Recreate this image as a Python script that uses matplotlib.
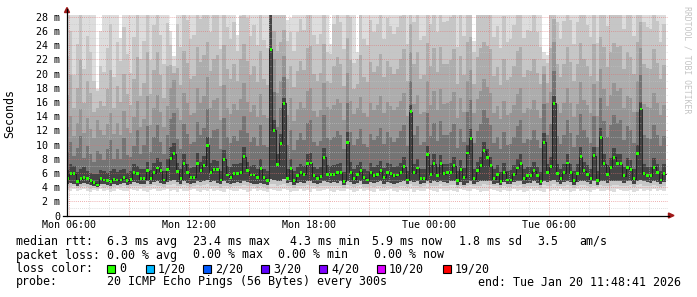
import numpy as np
import matplotlib
matplotlib.use("Agg")
import matplotlib.pyplot as plt
from matplotlib.lines import Line2D
from matplotlib.patches import Rectangle, Polygon

plt.rcParams["font.family"] = ["DejaVu Sans Mono"]

W, H = 697, 297

# 10 minute samples, hours since Mon 00:00, first one at Mon 05:50
start_hour = 5 + 50 / 60
step_hours = 10 / 60

rtt_median = [
    5.2, 5.9, 5.9, 4.8, 5.2, 5.3, 5.2, 4.9, 4.6, 4.3,
    5.2, 5.0, 4.9, 4.8, 5.1, 5.0, 5.0, 5.3, 4.9, 5.1,
    6.0, 5.9, 5.2, 5.2, 6.3, 5.2, 6.0, 6.7, 6.3, 5.0,
    6.5, 8.0, 8.7, 6.2, 5.2, 7.3, 6.0, 5.4, 5.4, 7.3,
    6.3, 7.1, 9.9, 6.1, 6.5, 6.5, 5.0, 7.9, 5.7, 5.4,
    5.9, 5.9, 6.0, 8.3, 6.3, 5.7, 5.7, 5.3, 6.6, 5.3,
    4.9, 23.4, 12.0, 7.2, 10.2, 15.8, 5.2, 6.6, 4.9, 5.6,
    6.0, 5.8, 7.3, 7.4, 5.6, 5.2, 5.5, 8.2, 5.8, 5.8,
    5.8, 6.0, 6.0, 4.8, 10.3, 6.1, 5.2, 5.8, 6.3, 5.3,
    5.0, 6.1, 5.6, 5.8, 6.3, 5.4, 6.1, 5.9, 5.6, 5.7,
    6.1, 6.9, 5.0, 14.6, 6.0, 6.7, 5.2, 5.2, 8.6, 5.8,
    7.3, 5.6, 7.3, 5.9, 6.0, 6.1, 7.0, 4.9, 6.5, 5.4,
    8.8, 10.9, 5.2, 6.3, 7.0, 9.1, 8.2, 7.0, 5.2, 5.8,
    4.8, 6.1, 5.0, 5.0, 5.8, 6.7, 7.3, 5.2, 5.6, 5.6,
    6.3, 5.6, 4.8, 10.3, 6.0, 6.9, 15.8, 5.9, 5.2, 6.0,
    7.4, 6.0, 4.9, 5.9, 8.3, 6.3, 5.8, 5.2, 8.4, 4.9,
    11.0, 7.3, 5.8, 6.8, 8.2, 7.3, 7.3, 5.6, 6.8, 6.5,
    5.2, 8.7, 15.0, 5.9, 5.6, 5.6, 6.8, 6.0, 5.0, 5.9,
]

# smoke, from the fastest ping up to the slowest ping (ms)
ping_min = [
    3.6, 3.5, 3.7, 3.4, 3.6, 3.8, 3.5, 3.3, 3.6, 3.4,
    3.7, 3.5, 3.6, 3.3, 3.5, 3.8, 3.6, 3.4, 3.5, 3.7,
    3.6, 3.4, 3.8, 3.5, 3.3, 3.6, 3.7, 3.5, 3.4, 3.6,
    3.8, 3.5, 3.6, 3.3, 3.7, 3.5, 3.4, 3.6, 3.8, 3.5,
    3.3, 3.6, 3.5, 3.7, 3.4, 3.6, 3.5, 3.3, 3.7, 3.6,
    3.4, 3.5, 3.8, 3.6, 3.3, 3.5, 3.7, 3.4, 3.6, 3.5,
    3.3, 3.7, 3.6, 3.4, 3.5, 3.8, 3.6, 3.3, 3.5, 3.4,
    3.7, 3.5, 3.6, 3.3, 3.8, 3.5, 3.4, 3.6, 3.7, 3.5,
    3.3, 3.6, 3.4, 3.5, 3.7, 3.6, 3.3, 3.5, 3.8, 3.4,
    3.6, 3.5, 3.3, 3.7, 3.5, 3.4, 3.6, 3.8, 3.5, 3.3,
    3.6, 3.4, 3.5, 3.7, 3.3, 3.6, 3.5, 3.4, 3.8, 3.6,
    3.5, 3.3, 3.7, 3.5, 3.4, 3.6, 3.5, 3.3, 3.7, 3.6,
    3.4, 3.5, 3.8, 3.6, 3.3, 3.5, 3.4, 3.7, 3.6, 3.5,
    3.3, 3.6, 3.5, 3.4, 3.8, 3.5, 3.6, 3.3, 3.5, 3.7,
    3.4, 3.6, 3.5, 3.3, 3.7, 3.5, 3.6, 3.4, 3.8, 3.5,
    3.6, 3.3, 3.5, 3.7, 3.4, 3.6, 3.5, 3.3, 3.6, 3.8,
    3.5, 3.4, 3.6, 3.5, 3.3, 3.7, 3.6, 3.4, 3.5, 3.6,
    3.3, 3.5, 3.7, 3.4, 3.6, 3.5, 3.8, 3.4, 3.6, 3.5,
]

ping_low2 = [
    4.1, 4.0, 4.1, 3.9, 4.0, 4.2, 4.0, 3.8, 3.9, 3.7,
    4.1, 3.9, 4.0, 3.8, 4.0, 4.1, 4.0, 4.1, 3.9, 4.1,
    4.2, 4.1, 4.2, 4.0, 4.2, 4.1, 4.3, 4.2, 4.1, 4.0,
    4.3, 4.3, 4.4, 4.1, 4.1, 4.3, 4.1, 4.0, 4.2, 4.3,
    4.1, 4.3, 4.4, 4.2, 4.2, 4.1, 3.9, 4.2, 4.2, 4.0,
    4.1, 4.2, 4.2, 4.3, 4.1, 4.1, 4.1, 3.9, 4.2, 4.0,
    3.8, 4.5, 4.4, 4.2, 4.3, 4.5, 4.1, 4.1, 3.9, 4.1,
    4.2, 4.1, 4.3, 4.2, 4.2, 4.0, 4.1, 4.2, 4.2, 4.1,
    4.1, 4.2, 4.2, 3.9, 4.3, 4.2, 4.0, 4.1, 4.3, 4.0,
    4.0, 4.2, 4.0, 4.2, 4.2, 4.0, 4.2, 4.2, 4.0, 4.0,
    4.2, 4.2, 4.0, 4.4, 4.1, 4.2, 4.0, 4.1, 4.4, 4.1,
    4.2, 4.1, 4.4, 4.2, 4.1, 4.3, 4.3, 3.9, 4.2, 4.0,
    4.1, 4.3, 4.1, 4.2, 4.2, 4.4, 4.3, 4.3, 4.1, 4.1,
    3.9, 4.2, 4.0, 4.0, 4.3, 4.2, 4.3, 4.0, 4.1, 4.2,
    4.2, 4.1, 3.9, 4.3, 4.2, 4.2, 4.4, 4.2, 4.1, 4.2,
    4.3, 4.1, 3.9, 4.2, 4.3, 4.3, 4.2, 4.0, 4.2, 4.0,
    4.3, 4.2, 4.1, 4.2, 4.3, 4.3, 4.2, 4.1, 4.2, 4.3,
    4.0, 4.3, 4.4, 4.2, 4.2, 4.1, 4.3, 4.2, 4.0, 4.2,
]

ping_lo = [
    4.5, 4.6, 4.4, 4.2, 4.5, 4.6, 4.4, 4.3, 4.2, 4.0,
    4.5, 4.4, 4.3, 4.2, 4.4, 4.3, 4.4, 4.6, 4.3, 4.4,
    4.7, 4.6, 4.5, 4.4, 4.8, 4.5, 4.7, 4.8, 4.6, 4.4,
    4.7, 4.9, 5.0, 4.7, 4.5, 4.8, 4.6, 4.5, 4.6, 4.9,
    4.7, 4.8, 5.0, 4.7, 4.8, 4.6, 4.4, 4.9, 4.6, 4.5,
    4.6, 4.7, 4.6, 4.9, 4.7, 4.6, 4.5, 4.4, 4.6, 4.5,
    4.3, 5.2, 5.0, 4.8, 4.9, 5.1, 4.6, 4.7, 4.3, 4.6,
    4.7, 4.6, 4.8, 4.9, 4.6, 4.5, 4.6, 4.8, 4.7, 4.6,
    4.7, 4.6, 4.8, 4.3, 4.9, 4.7, 4.5, 4.6, 4.8, 4.5,
    4.4, 4.7, 4.6, 4.7, 4.8, 4.5, 4.7, 4.6, 4.5, 4.6,
    4.7, 4.8, 4.4, 4.9, 4.7, 4.8, 4.5, 4.6, 4.9, 4.6,
    4.8, 4.7, 4.9, 4.7, 4.6, 4.8, 4.9, 4.3, 4.7, 4.3,
    4.6, 4.8, 4.5, 4.7, 4.8, 4.9, 4.9, 4.8, 4.5, 4.6,
    4.3, 4.7, 4.4, 4.5, 4.7, 4.8, 4.9, 4.5, 4.6, 4.6,
    4.8, 4.6, 4.3, 4.9, 4.7, 4.8, 5.0, 4.7, 4.5, 4.7,
    4.9, 4.7, 4.3, 4.7, 4.9, 4.8, 4.7, 4.5, 4.8, 4.3,
    4.9, 4.8, 4.6, 4.8, 4.9, 4.8, 4.8, 4.6, 4.8, 4.8,
    4.5, 4.9, 5.0, 4.8, 4.7, 4.6, 4.8, 4.7, 4.4, 4.7,
]

ping_hi1 = [
    6.4, 7.2, 7.0, 6.1, 6.5, 6.8, 6.3, 6.0, 5.9, 5.8,
    6.4, 6.2, 6.0, 6.3, 6.5, 6.1, 6.4, 6.6, 6.0, 6.3,
    7.3, 7.0, 6.5, 6.6, 7.6, 6.4, 7.4, 8.1, 7.5, 6.3,
    8.0, 9.6, 10.2, 7.4, 6.6, 8.7, 7.3, 6.7, 6.8, 8.8,
    7.6, 8.4, 11.0, 7.4, 7.8, 7.7, 6.3, 9.2, 7.0, 6.8,
    7.2, 7.3, 7.4, 9.6, 7.6, 7.0, 7.1, 6.6, 8.0, 6.6,
    6.2, 29.0, 13.5, 8.6, 11.5, 16.5, 6.6, 7.9, 6.2, 6.9,
    7.3, 7.0, 8.6, 8.8, 6.9, 6.5, 6.8, 9.5, 7.1, 7.0,
    7.1, 7.3, 7.4, 6.1, 11.8, 7.5, 6.5, 7.1, 7.6, 6.6,
    6.3, 7.4, 6.9, 7.1, 7.7, 6.7, 7.4, 7.2, 6.9, 7.0,
    7.4, 8.2, 6.3, 15.5, 7.3, 8.0, 6.5, 6.6, 9.8, 7.1,
    8.6, 6.9, 8.5, 7.2, 7.3, 7.4, 8.3, 6.2, 7.8, 6.7,
    10.0, 12.2, 6.5, 7.6, 8.3, 10.4, 9.4, 8.3, 6.5, 7.1,
    6.1, 7.4, 6.3, 6.4, 7.1, 8.0, 8.6, 6.5, 6.9, 6.9,
    7.6, 6.9, 6.1, 11.6, 7.3, 8.2, 16.8, 7.2, 6.5, 7.3,
    8.7, 7.3, 6.2, 7.2, 9.6, 7.6, 7.1, 6.5, 9.7, 6.2,
    12.3, 8.6, 7.1, 8.1, 9.5, 8.6, 8.6, 6.9, 8.1, 7.8,
    6.5, 10.0, 16.0, 7.2, 6.9, 6.9, 8.1, 7.3, 6.3, 7.2,
]

ping_hi1b = [
    8.9, 10.3, 8.4, 9.5, 11.2, 8.1, 9.8, 8.7, 7.6, 9.1,
    8.6, 7.8, 9.3, 10.6, 8.0, 9.4, 7.9, 10.9, 8.5, 8.2,
    9.8, 12.0, 8.7, 9.9, 12.6, 8.9, 11.1, 12.8, 10.4, 8.6,
    11.3, 13.6, 14.5, 10.8, 9.4, 12.9, 11.5, 10.1, 10.3, 13.2,
    11.4, 12.3, 15.0, 10.9, 12.0, 12.2, 9.3, 13.8, 11.0, 10.2,
    11.2, 10.5, 12.1, 14.0, 11.6, 10.3, 11.0, 9.8, 12.7, 10.0,
    9.6, 29.5, 17.4, 12.5, 15.1, 19.5, 9.9, 12.1, 9.2, 10.6,
    11.6, 10.7, 13.0, 13.4, 10.4, 9.8, 10.5, 14.1, 10.9, 10.6,
    11.1, 11.9, 11.4, 9.4, 15.8, 11.8, 10.0, 10.8, 12.2, 10.1,
    9.7, 11.5, 10.6, 11.2, 12.3, 10.1, 11.7, 11.0, 10.4, 10.9,
    11.9, 12.8, 9.8, 19.0, 11.3, 12.6, 10.0, 10.3, 14.5, 11.2,
    13.0, 10.5, 13.3, 11.3, 11.4, 11.8, 12.9, 9.5, 12.2, 10.3,
    14.6, 16.3, 10.2, 11.9, 12.9, 14.9, 13.8, 12.8, 10.2, 11.0,
    9.4, 11.7, 9.9, 10.1, 11.1, 12.6, 13.4, 10.2, 10.8, 10.7,
    12.0, 10.6, 9.5, 15.7, 11.4, 12.9, 20.4, 11.2, 10.1, 11.4,
    13.4, 11.6, 9.7, 11.3, 14.3, 12.1, 11.0, 10.2, 14.0, 9.6,
    16.5, 13.3, 11.0, 12.7, 14.2, 13.1, 13.4, 10.7, 12.6, 12.0,
    10.2, 14.6, 19.8, 11.3, 10.9, 10.8, 12.7, 11.4, 9.8, 11.2,
]

ping_hi2 = [
    12.5, 14.0, 11.2, 13.1, 15.0, 11.6, 13.8, 12.2, 10.9, 13.4,
    12.0, 11.3, 12.9, 14.4, 11.5, 13.0, 11.4, 14.7, 12.3, 11.6,
    13.9, 16.2, 12.5, 13.6, 16.8, 12.8, 15.1, 17.0, 14.6, 12.4,
    15.4, 18.0, 19.1, 15.2, 13.4, 17.3, 15.8, 14.2, 14.5, 17.9,
    15.9, 16.8, 19.5, 15.1, 16.3, 16.6, 13.5, 18.4, 15.2, 14.3,
    15.7, 14.9, 16.4, 18.7, 16.0, 14.6, 15.5, 13.9, 17.1, 14.2,
    13.7, 30.0, 22.0, 17.2, 19.0, 22.5, 14.1, 16.5, 13.3, 15.0,
    16.0, 15.1, 17.6, 18.0, 14.7, 13.9, 14.8, 18.6, 15.3, 15.0,
    15.6, 16.4, 15.8, 13.5, 20.1, 16.2, 14.3, 15.2, 16.7, 14.4,
    13.9, 15.9, 14.9, 15.6, 16.8, 14.4, 16.0, 15.4, 14.8, 15.3,
    16.2, 17.2, 14.0, 23.0, 15.7, 17.0, 14.3, 14.6, 18.9, 15.6,
    17.5, 14.9, 17.8, 15.7, 15.8, 16.1, 17.4, 13.7, 16.6, 14.6,
    19.0, 20.5, 14.4, 16.4, 17.5, 19.2, 18.1, 17.3, 14.5, 15.4,
    13.6, 16.2, 14.1, 14.4, 15.5, 17.1, 17.9, 14.4, 15.1, 15.0,
    16.3, 14.9, 13.7, 20.0, 15.9, 17.4, 24.5, 15.7, 14.4, 15.8,
    17.9, 15.9, 13.9, 15.7, 18.8, 16.3, 15.5, 14.5, 18.5, 14.0,
    20.6, 17.8, 15.4, 17.0, 18.7, 17.6, 17.9, 15.2, 16.9, 16.5,
    14.6, 18.9, 23.6, 15.7, 15.3, 15.2, 17.2, 15.8, 14.1, 15.6,
]

ping_hi2b = [
    17.0, 19.8, 15.1, 18.0, 21.9, 15.8, 19.0, 17.2, 14.6, 15.2,
    16.1, 15.4, 17.8, 20.5, 15.2, 18.3, 16.0, 20.0, 17.1, 15.6,
    19.2, 22.3, 16.9, 18.7, 23.0, 17.1, 20.5, 23.1, 19.8, 16.6,
    21.0, 21.2, 20.1, 20.8, 18.4, 23.2, 21.5, 19.3, 19.7, 23.8,
    21.6, 22.6, 24.5, 20.3, 22.1, 22.6, 18.2, 24.0, 20.6, 19.3,
    21.3, 18.9, 22.0, 24.2, 21.7, 19.8, 21.0, 18.8, 23.2, 19.3,
    18.4, 31.0, 26.0, 23.2, 24.4, 26.1, 19.2, 21.0, 18.1, 20.3,
    21.7, 20.5, 23.6, 23.9, 19.9, 18.9, 20.1, 24.2, 19.0, 18.7,
    21.1, 22.3, 21.4, 18.3, 25.0, 21.9, 17.8, 18.5, 22.6, 19.5,
    18.8, 21.6, 20.2, 21.1, 22.8, 19.5, 21.7, 20.9, 20.0, 20.7,
    22.0, 23.5, 18.9, 27.0, 21.3, 23.1, 19.3, 19.8, 24.3, 21.1,
    23.6, 20.2, 23.8, 21.3, 21.4, 21.9, 23.5, 18.5, 22.5, 19.8,
    24.4, 25.2, 18.5, 22.3, 23.6, 24.5, 23.9, 23.5, 19.6, 20.9,
    18.4, 22.0, 19.1, 19.5, 21.0, 23.2, 23.8, 19.5, 20.5, 20.3,
    22.1, 20.1, 18.5, 21.0, 18.6, 23.6, 27.7, 21.3, 19.5, 21.4,
    23.8, 21.6, 18.9, 21.3, 24.3, 22.1, 21.0, 19.7, 24.1, 19.0,
    25.2, 23.8, 20.9, 23.1, 24.3, 23.7, 23.9, 20.6, 23.0, 22.4,
    19.9, 24.4, 27.3, 21.4, 20.8, 20.7, 23.4, 21.5, 19.2, 21.2,
]

ping_hi3 = [
    22.5, 26.0, 19.8, 24.1, 28.5, 20.6, 25.3, 23.0, 18.9, 17.5,
    21.0, 20.2, 23.6, 27.0, 19.5, 24.4, 21.7, 26.5, 22.8, 20.1,
    25.2, 29.0, 22.0, 24.6, 30.0, 21.9, 26.8, 29.5, 25.5, 21.4,
    27.1, 24.0, 21.0, 27.0, 23.8, 29.5, 27.6, 24.9, 25.4, 30.0,
    27.7, 28.9, 30.0, 25.9, 28.3, 29.0, 23.4, 30.0, 26.5, 24.8,
    27.3, 23.2, 28.1, 30.0, 27.8, 25.3, 26.9, 24.0, 29.6, 24.7,
    23.6, 32.0, 30.0, 29.5, 30.0, 30.0, 24.6, 25.8, 23.2, 25.9,
    27.7, 26.1, 30.0, 30.0, 25.4, 24.1, 25.6, 30.0, 23.0, 22.8,
    27.0, 28.6, 27.3, 23.5, 30.0, 28.0, 21.5, 22.0, 28.9, 24.9,
    24.0, 27.6, 25.8, 27.0, 29.2, 24.9, 27.8, 26.7, 25.6, 26.5,
    28.1, 30.0, 24.2, 31.0, 27.2, 29.6, 24.7, 25.3, 30.0, 27.0,
    30.0, 25.8, 30.0, 27.2, 27.4, 27.9, 30.0, 23.7, 28.8, 25.3,
    30.0, 30.0, 23.0, 28.4, 30.0, 30.0, 30.0, 30.0, 25.1, 26.7,
    23.6, 28.1, 24.4, 24.9, 26.9, 29.6, 30.0, 25.0, 26.2, 26.0,
    28.3, 25.8, 23.7, 22.0, 21.5, 30.0, 31.0, 27.2, 24.9, 27.4,
    30.0, 27.6, 24.1, 27.2, 30.0, 28.3, 26.9, 25.1, 30.0, 24.3,
    30.0, 30.0, 26.7, 29.5, 30.0, 30.0, 30.0, 26.3, 29.3, 28.6,
    25.3, 30.0, 31.0, 27.2, 26.5, 26.3, 29.8, 27.4, 24.4, 27.0,
]

ping_max = [
    41.5, 37.2, 45.0, 39.8, 52.1, 36.4, 43.7, 38.9, 35.3, 17.8,
    26.0, 40.6, 44.2, 48.0, 37.5, 42.9, 25.0, 50.3, 39.1, 36.8,
    46.4, 53.0, 38.2, 41.7, 55.6, 37.9, 47.3, 51.8, 44.5, 36.1,
    43.0, 26.0, 22.5, 46.8, 40.2, 52.5, 45.9, 39.4, 42.6, 57.0,
    48.1, 50.7, 58.3, 41.4, 49.6, 47.2, 38.7, 54.9, 43.3, 40.8,
    45.5, 25.5, 47.8, 56.2, 46.0, 41.9, 44.8, 39.6, 51.4, 40.3,
    38.4, 62.0, 57.5, 50.9, 55.1, 60.4, 27.5, 27.8, 37.6, 43.1,
    47.0, 42.2, 53.6, 52.8, 41.0, 39.2, 42.4, 55.0, 38.0, 24.2,
    44.9, 49.3, 46.5, 38.8, 57.8, 47.7, 36.2, 23.1, 50.1, 40.7,
    39.5, 46.2, 42.8, 45.1, 51.2, 40.4, 47.4, 44.0, 41.8, 43.9,
    48.6, 53.3, 39.9, 59.4, 46.7, 51.0, 40.0, 41.3, 54.4, 45.6,
    52.2, 42.1, 53.9, 45.3, 46.1, 47.9, 52.6, 38.6, 49.8, 41.6,
    56.5, 58.8, 24.6, 48.9, 53.1, 57.3, 55.4, 52.0, 41.1, 44.4,
    38.5, 48.4, 40.1, 41.2, 45.8, 51.6, 54.0, 41.5, 43.6, 43.0,
    48.2, 42.7, 39.0, 23.0, 22.6, 52.7, 61.2, 46.3, 40.9, 46.6,
    53.4, 47.6, 39.7, 46.4, 56.8, 48.5, 45.2, 41.0, 55.2, 39.3,
    59.0, 54.7, 44.6, 51.5, 56.0, 53.8, 54.3, 43.8, 50.6, 49.0,
    42.3, 55.5, 60.0, 46.9, 44.1, 43.4, 51.9, 47.1, 40.5, 45.7,
]

time_ticks = [6, 12, 18, 24, 30]
time_labels = ["Mon 06:00", "Mon 12:00", "Mon 18:00", "Tue 00:00", "Tue 06:00"]
y_ticks = list(range(0, 29, 2))
y_labels = ["0"] + ["%d m" % v for v in y_ticks[1:]]

loss_labels = ["0", "1/20", "2/20", "3/20", "4/20", "10/20", "19/20"]
loss_colors = ["#26ff00", "#00b8ff", "#0059ff", "#5e00ff", "#7e00ff", "#dd00ff", "#ff0000"]


def fx(px):
    return px / W


def fy(py):
    return 1 - py / H


def stepped(values):
    v = np.asarray(values, dtype=float)
    return np.append(v, v[-1])


fig = plt.figure(figsize=(W / 100, H / 100), dpi=100)
fig.patch.set_facecolor("white")
ax = fig.add_axes([fx(67), fy(215.5), (668 - 67) / W, (215.5 - 15) / H])
ax.set_facecolor("white")

t_edges = start_hour + step_hours * np.arange(len(rtt_median) + 1)

# smoke, outer pings first, darker towards the median
layers = [
    (ping_min, ping_max, "#dddddd"),
    (ping_low2, ping_hi3, "#c6c6c6"),
    (ping_lo, ping_hi2b, "#adadad"),
    (ping_lo, ping_hi2, "#959595"),
    (ping_lo, ping_hi1b, "#747474"),
    (ping_lo, ping_hi1, "#444444"),
]
for lower, upper, color in layers:
    ax.fill_between(t_edges, stepped(lower), stepped(upper), step="post",
                    color=color, linewidth=0, zorder=1)

# grid on top of the smoke
for v in range(1, 29):
    major = v % 2 == 0
    ax.axhline(v, color="#e07070" if major else "#c4c4c4", alpha=0.75,
               lw=0.6, ls=(0, (1, 1.5)), zorder=2)
for h in range(6, 36):
    major = h % 3 == 0
    ax.axvline(h, color="#e07070" if major else "#c4c4c4", alpha=0.75,
               lw=0.6, ls=(0, (1, 1.5)), zorder=2)

# median, green = no loss
ax.step(t_edges, stepped(rtt_median), where="post", color="#1c1c1c", lw=0.6, zorder=3)
med = np.asarray(rtt_median)
ax.bar(t_edges[:-1] + 0.15 * step_hours, 0.4, bottom=med - 0.2, width=0.7 * step_hours,
       align="edge", color=loss_colors[0], linewidth=0, zorder=4)

ax.set_xlim(5.9, 35.95)
ax.set_ylim(0, 28.25)
for s in ax.spines.values():
    s.set_visible(False)
ax.set_xticks(time_ticks, time_labels)
ax.set_yticks(y_ticks, y_labels)
ax.tick_params(axis="x", length=0, pad=3.3, labelsize=7.2)
ax.tick_params(axis="y", length=0, pad=5.0, labelsize=7.2)

# axes with arrows
fig.add_artist(Line2D([fx(67), fx(67)], [fy(216), fy(9)], color="black", lw=0.9))
fig.add_artist(Line2D([fx(63), fx(669)], [fy(215.5), fy(215.5)], color="black", lw=0.9))
fig.add_artist(Polygon([(fx(64.5), fy(12.5)), (fx(69.5), fy(12.5)), (fx(67), fy(7.5))],
                       closed=True, transform=fig.transFigure, color="#a01818"))
fig.add_artist(Polygon([(fx(668.5), fy(213)), (fx(668.5), fy(218)), (fx(674), fy(215.5))],
                       closed=True, transform=fig.transFigure, color="#a01818"))

fig.text(fx(10), fy(114), "Seconds", rotation=90, ha="center", va="center", fontsize=8.4)
fig.text(fx(687), fy(60), "RRDTOOL / TOBI OETIKER", rotation=270, ha="center",
         va="center", fontsize=5.9, color="#c4c4c4")

# legend lines
fs = 8.4
rows = [
    (245, [(16, "median rtt:"), (107, "6.3 ms avg"), (193, "23.4 ms max"),
           (290, "4.3 ms min"), (372, "5.9 ms now"), (459, "1.8 ms sd"),
           (537, "3.5"), (579, "am/s")]),
    (258.5, [(16, "packet loss:"), (107, "0.00 % avg"), (193, "0.00 % max"),
             (278, "0.00 % min"), (374, "0.00 % now")]),
    (272, [(16, "loss color:")]),
    (285.5, [(16, "probe:"), (107, "20 ICMP Echo Pings (56 Bytes) every 300s"),
             (478, "end: Tue Jan 20 11:48:41 2026")]),
]
for base, items in rows:
    for x, s in items:
        fig.text(fx(x), fy(base), s, ha="left", va="baseline", fontsize=fs)

box_left = [107, 146, 203, 261, 319, 377, 443]
for x, c, lab in zip(box_left, loss_colors, loss_labels):
    fig.add_artist(Rectangle((fx(x), fy(273)), 8 / W, 8 / H, transform=fig.transFigure,
                             facecolor=c, edgecolor="black", lw=0.8))
    fig.text(fx(x + 12), fy(272), lab, ha="left", va="baseline", fontsize=fs)

fig.savefig("out.png", dpi=100, facecolor="white")
